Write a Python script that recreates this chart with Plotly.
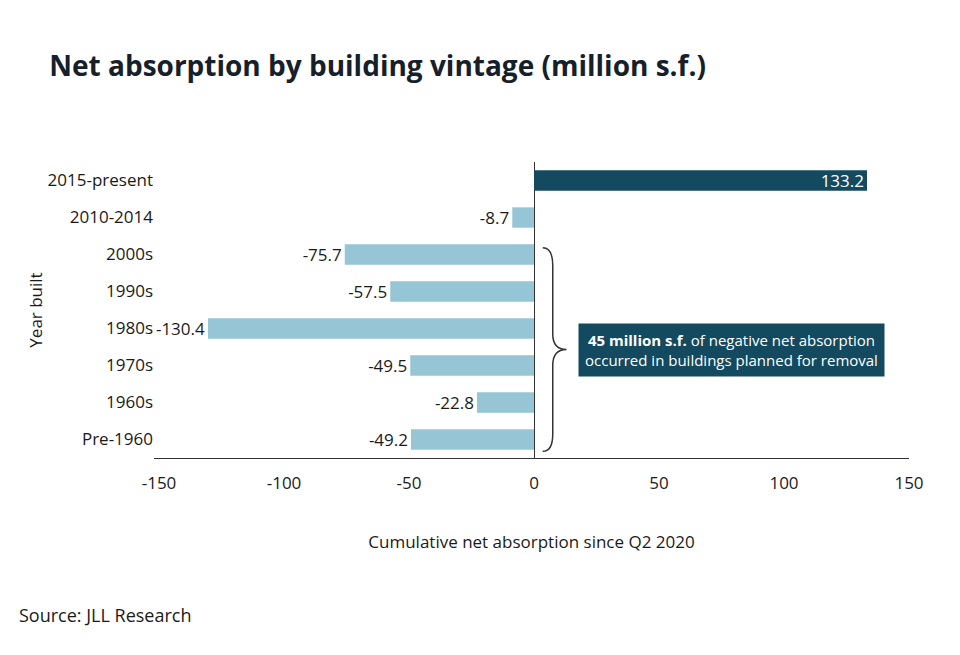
import plotly.graph_objects as go

# data
categories = ["2015-present", "2010-2014", "2000s", "1990s", "1980s", "1970s", "1960s", "Pre-1960"]
values = [133.2, -8.7, -75.7, -57.5, -130.4, -49.5, -22.8, -49.2]
x_ticks = [-150, -100, -50, 0, 50, 100, 150]

DARK = "#134a60"
LIGHT = "#96c5d5"
TEXT = "#1a1a1a"
FONT = "Open Sans"

colors = [DARK if v > 0 else LIGHT for v in values]
positions = ["inside" if v > 0 else "outside" for v in values]
label_colors = ["white" if v > 0 else TEXT for v in values]

fig = go.Figure()

fig.add_trace(go.Bar(
    x=values,
    y=categories,
    orientation="h",
    marker=dict(color=colors, line=dict(width=0)),
    width=0.55,
    text=[f"{v:.1f}" for v in values],
    textposition=positions,
    insidetextanchor="end",
    constraintext="none",
    textfont=dict(size=17, color=label_colors, family=FONT),
    cliponaxis=False,
    hoverinfo="skip",
))

# curly brace grouping the bars from 2000s down to Pre-1960
brace = ("M 3.5,1.82 Q 7.5,1.82 7.5,2.3 L 7.5,4.15 Q 7.5,4.57 13,4.57 "
         "Q 7.5,4.57 7.5,5.0 L 7.5,6.85 Q 7.5,7.32 3.5,7.32")
fig.add_shape(type="path", path=brace, xref="x", yref="y",
              line=dict(color="#333333", width=1.5))

fig.add_annotation(
    x=79, y=4.57, xref="x", yref="y",
    text="<b>45 million s.f.</b> of negative net absorption<br>occurred in buildings planned for removal",
    showarrow=False,
    font=dict(size=15, color="white", family=FONT),
    bgcolor=DARK,
    borderpad=6,
    align="center",
)

fig.add_annotation(
    x=-0.182, y=-0.53, xref="paper", yref="paper",
    xanchor="left", yanchor="middle",
    text="Source: JLL Research", showarrow=False,
    font=dict(size=18, color=TEXT, family=FONT),
)

fig.update_layout(
    width=960,
    height=655,
    paper_bgcolor="white",
    plot_bgcolor="white",
    showlegend=False,
    font=dict(family=FONT, size=17, color=TEXT),
    margin=dict(l=146, r=59, t=154, b=205),
    title=dict(
        text="<b>Net absorption by building vintage (million s.f.)</b>",
        x=0.043, xanchor="left", y=0.911, yanchor="middle",
        font=dict(size=28, color="#15202b", family=FONT),
    ),
    xaxis=dict(
        range=[-152, 150],
        tickvals=x_ticks,
        ticktext=[str(t) for t in x_ticks],
        showgrid=False,
        zeroline=True,
        zerolinecolor="#333333",
        zerolinewidth=1,
        showline=True,
        linecolor="#333333",
        linewidth=1,
        ticks="",
        ticklabelstandoff=10,
        tickfont=dict(size=17),
        title=dict(text="Cumulative net absorption since Q2 2020", standoff=42,
                   font=dict(size=17)),
    ),
    yaxis=dict(
        type="category",
        categoryorder="array",
        categoryarray=categories,
        autorange="reversed",
        showgrid=False,
        zeroline=False,
        showline=False,
        ticks="",
        tickfont=dict(size=17),
        title=dict(text="Year built", standoff=0, font=dict(size=17)),
    ),
)

fig.write_html("out.html")
